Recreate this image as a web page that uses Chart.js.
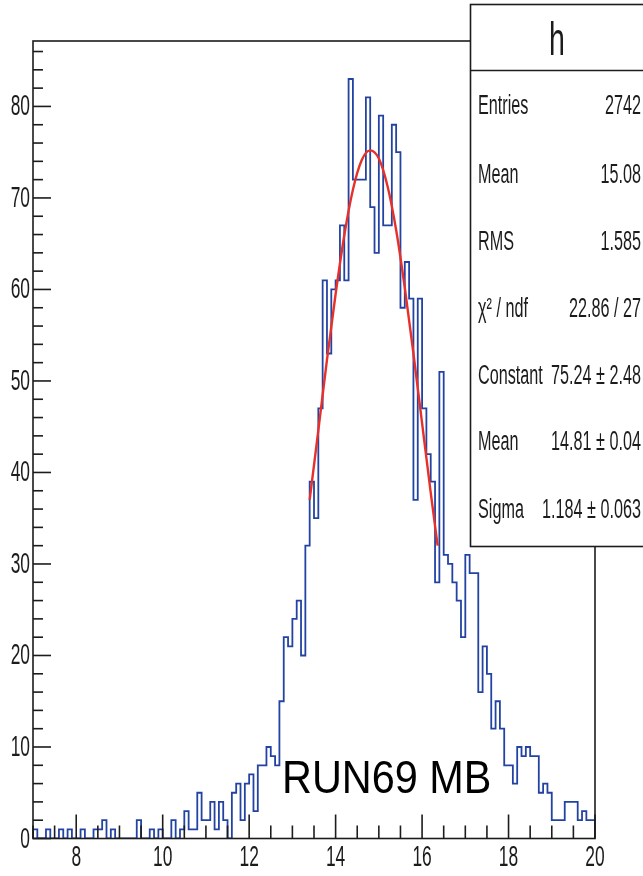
<!DOCTYPE html>
<html>
<head>
<meta charset="utf-8">
<script src="https://cdn.jsdelivr.net/npm/chart.js@4"></script>
<style>
  html, body { margin: 0; padding: 0; background: #fff; }
  #wrap { width: 643px; height: 876px; }
</style>
</head>
<body>
<div id="wrap"><canvas id="histo" width="643" height="876"></canvas></div>
<script>
// histogram "h": 130 bins of width 0.1 from 7 to 20
var binLow = 7;
var binWidth = 0.1;
var counts = [
  1, 0, 0, 1, 0, 0, 1, 0, 1, 0,
  0, 1, 0, 0, 1, 1, 2, 0, 1, 0,
  0, 0, 0, 0, 2, 0, 0, 1, 0, 1,
  0, 0, 2, 0, 1, 3, 1, 1, 5, 2,
  2, 4, 1, 4, 2, 0, 5, 6, 2, 6,
  7, 3, 8, 8, 10, 9, 8, 15, 22, 21,
  24, 26, 20, 32, 39, 35, 47, 61, 53, 60,
  61, 67, 61, 83, 72, 72, 72, 81, 69, 64,
  79, 67, 67, 78, 75, 58, 63, 59, 37, 59,
  47, 42, 39, 28, 51, 31, 30, 28, 26, 22,
  31, 29, 29, 16, 21, 18, 12, 15, 12, 8,
  8, 6, 10, 9, 10, 9, 9, 5, 6, 5,
  2, 2, 2, 4, 4, 4, 2, 3, 2, 2
];

// red gaus fit curve
var fitX = [13.4, 13.6, 13.8, 14.0, 14.2, 14.4, 14.6, 14.8, 15.0, 15.2, 15.4, 15.6, 15.8, 16.0, 16.2, 16.36];
var fitY = [37.0, 44.6, 52.3, 59.5, 65.9, 70.9, 74.1, 75.2, 74.3, 71.3, 66.5, 60.2, 53.0, 45.4, 37.8, 32.0];

// axis labels
var xTickLabels = [8, 10, 12, 14, 16, 18, 20];
var yTickLabels = [0, 10, 20, 30, 40, 50, 60, 70, 80];

// stats box
var histName = "h";
var statLabels = ["Entries", "Mean", "RMS", "\u03C7\u00B2 / ndf", "Constant", "Mean", "Sigma"];
var statValues = ["2742", "15.08", "1.585", "22.86 / 27", "75.24 \u00B1 2.48", "14.81 \u00B1 0.04", "1.184 \u00B1 0.063"];
var runLabel = "RUN69 MB";

document.addEventListener("DOMContentLoaded", function () {
  var ctx = document.getElementById("histo").getContext("2d");

  // outline points: left edge of each bin, closed at both ends
  var histPoints = [{ x: binLow, y: 0 }];
  counts.forEach(function (c, i) {
    histPoints.push({ x: binLow + i * binWidth, y: c });
  });
  var xEnd = binLow + counts.length * binWidth;
  histPoints.push({ x: xEnd, y: counts[counts.length - 1] });
  histPoints.push({ x: xEnd, y: 0 });

  var fitPoints = fitX.map(function (x, i) {
    return { x: x, y: fitY[i] };
  });

  // ROOT-like text: Helvetica squeezed horizontally
  function squeezedText(c, text, x, y, size, align, sx) {
    c.save();
    c.translate(x, y);
    c.scale(sx, 1);
    c.font = size + "px 'Liberation Sans', Arial, sans-serif";
    c.textAlign = align;
    c.textBaseline = "middle";
    c.fillText(text, 0, 0);
    c.restore();
  }

  function seg(c, x1, y1, x2, y2) {
    c.beginPath();
    c.moveTo(x1, y1);
    c.lineTo(x2, y2);
    c.stroke();
  }

  var rootFrame = {
    id: "rootFrame",
    afterDraw: function (chart) {
      var c = chart.ctx;
      var a = chart.chartArea;
      var xs = chart.scales.x;
      var ys = chart.scales.y;
      c.save();
      c.strokeStyle = "#1c1c1c";
      c.fillStyle = "#1c1c1c";
      c.lineWidth = 1.6;
      c.strokeRect(a.left, a.top, a.right - a.left, a.bottom - a.top);

      // y ticks, pointing inward
      ys.ticks.forEach(function (t) {
        var v = t.value;
        if (Math.abs(v / 2 - Math.round(v / 2)) > 1e-6) return;
        var py = ys.getPixelForValue(v);
        seg(c, a.left, py, a.left + (v % 10 === 0 ? 18 : 10), py);
      });
      // x ticks
      xs.ticks.forEach(function (t) {
        var v = t.value;
        var px = xs.getPixelForValue(v);
        var big = Math.abs(v / 2 - Math.round(v / 2)) < 1e-6;
        seg(c, px, a.bottom, px, a.bottom - (big ? 24 : 13));
      });

      yTickLabels.forEach(function (v) {
        squeezedText(c, String(v), a.left - 3, ys.getPixelForValue(v) + 1, 29, "right", 0.6);
      });
      xTickLabels.forEach(function (v) {
        squeezedText(c, String(v), xs.getPixelForValue(v), 858, 29, "center", 0.6);
      });

      // stats box
      var bx = 470.5, by = 4.5, bw = 180, bh = 542;
      c.fillStyle = "#ffffff";
      c.fillRect(bx, by, bw, bh);
      c.strokeRect(bx, by, bw, bh);
      seg(c, bx, 70.5, bx + bw, 70.5);
      c.fillStyle = "#1c1c1c";
      squeezedText(c, histName, 557, 42, 46, "center", 0.62);
      var rowY = [107, 176, 243, 310, 377, 443, 511];
      statLabels.forEach(function (lab, i) {
        squeezedText(c, lab, 478, rowY[i], 27, "left", 0.6);
        squeezedText(c, statValues[i], 641, rowY[i], 27, "right", 0.6);
      });

      // run label
      c.fillStyle = "#000000";
      c.save();
      c.translate(282, 780);
      c.scale(0.9, 1);
      c.font = "46px 'Liberation Sans', Arial, sans-serif";
      c.textAlign = "left";
      c.textBaseline = "middle";
      c.fillText(runLabel, 0, 0);
      c.restore();
      c.restore();
    },
  };

  new Chart(ctx, {
    type: "line",
    data: {
      datasets: [
        {
          label: "gaus",
          data: fitPoints,
          order: 0,
          borderColor: "#e8302a",
          borderWidth: 2.4,
          pointRadius: 0,
          fill: false,
          cubicInterpolationMode: "monotone",
        },
        {
          label: histName,
          data: histPoints,
          order: 1,
          stepped: "before",
          borderColor: "#2343a3",
          borderWidth: 1.8,
          pointRadius: 0,
          fill: false,
        },
      ],
    },
    options: {
      responsive: false,
      animation: false,
      layout: { padding: { top: 41, right: 48, left: 0, bottom: 0 } },
      plugins: {
        legend: { display: false },
        tooltip: { enabled: false },
      },
      scales: {
        x: {
          type: "linear",
          min: 7,
          max: 20,
          ticks: { display: false, stepSize: 0.5, includeBounds: false },
          grid: { display: false },
          border: { display: false },
          afterFit: function (s) { s.height = 37.5; },
        },
        y: {
          type: "linear",
          min: 0,
          max: 87.15,
          ticks: { display: false, stepSize: 2, includeBounds: false },
          grid: { display: false },
          border: { display: false },
          afterFit: function (s) { s.width = 33; },
        },
      },
    },
    plugins: [rootFrame],
  });
});
</script>
</body>
</html>
